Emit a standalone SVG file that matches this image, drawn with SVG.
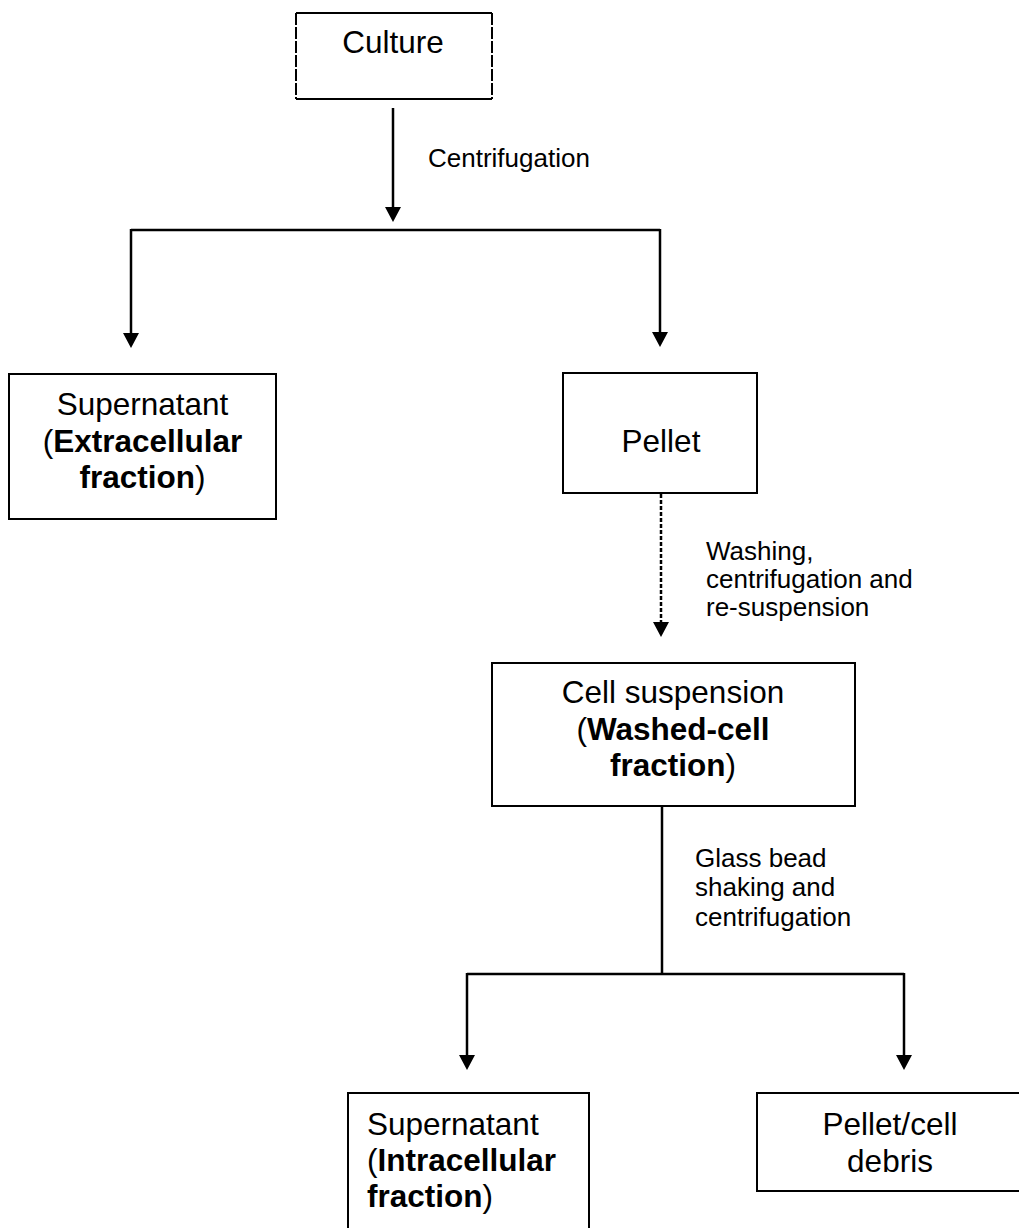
<svg xmlns="http://www.w3.org/2000/svg" width="1019" height="1228" viewBox="0 0 1019 1228">
  <style>
    .box { fill: #ffffff; stroke: #000000; stroke-width: 2; }
    .side { fill: none; stroke: #000000; stroke-width: 2; stroke-dasharray: 12 2; }
    .node { font-family: "Liberation Sans", Arial, sans-serif; font-size: 31.5px; fill: #000000; }
    .lbl { font-family: "Liberation Sans", Arial, sans-serif; font-size: 26px; fill: #000000; }
    .b { font-weight: bold; }
    .conn { fill: none; stroke: #000000; stroke-width: 2.5; }
    .dot { stroke-dasharray: 4 2; }
  </style>
  <defs>
    <marker id="arrow" viewBox="0 0 15 16" refX="3" refY="8" markerWidth="15" markerHeight="16" markerUnits="userSpaceOnUse" orient="auto">
      <path d="M0,0 L15,8 L0,16 z" fill="#000000"/>
    </marker>
  </defs>
  <rect width="1019" height="1228" fill="#ffffff"/>

  <g id="connectors">
    <line class="conn" x1="393" y1="108" x2="393" y2="210" marker-end="url(#arrow)"/>
    <line class="conn" x1="131" y1="230" x2="660" y2="230"/>
    <line class="conn" x1="131" y1="229" x2="131" y2="336" marker-end="url(#arrow)"/>
    <line class="conn" x1="660" y1="229" x2="660" y2="335" marker-end="url(#arrow)"/>
    <line class="conn dot" x1="661" y1="494" x2="661" y2="625" marker-end="url(#arrow)"/>
    <line class="conn" x1="662" y1="806" x2="662" y2="974"/>
    <line class="conn" x1="467" y1="974" x2="904" y2="974"/>
    <line class="conn" x1="467" y1="973" x2="467" y2="1058" marker-end="url(#arrow)"/>
    <line class="conn" x1="904" y1="973" x2="904" y2="1058" marker-end="url(#arrow)"/>
    <text class="lbl" x="428" y="167">Centrifugation</text>
    <text class="lbl" x="706" y="560">Washing,</text>
    <text class="lbl" x="706" y="588">centrifugation and</text>
    <text class="lbl" x="706" y="616">re-suspension</text>
    <text class="lbl" x="695" y="867">Glass bead</text>
    <text class="lbl" x="695" y="896">shaking and</text>
    <text class="lbl" x="695" y="926">centrifugation</text>
  </g>

  <g id="culture">
    <rect x="296" y="13" width="196" height="86" fill="#ffffff"/>
    <line class="box" x1="296" y1="13" x2="492" y2="13"/>
    <line class="box" x1="296" y1="99" x2="492" y2="99"/>
    <line class="side" x1="296" y1="13" x2="296" y2="99"/>
    <line class="side" x1="492" y1="13" x2="492" y2="99"/>
    <text class="node" x="393" y="53" text-anchor="middle">Culture</text>
  </g>

  <g id="supernatant-extracellular">
    <rect class="box" x="9" y="374" width="267" height="145"/>
    <text class="node" x="142.5" y="415" text-anchor="middle">Supernatant</text>
    <text class="node" x="142.5" y="452" text-anchor="middle">(<tspan class="b">Extracellular</tspan></text>
    <text class="node" x="142.5" y="488" text-anchor="middle"><tspan class="b">fraction</tspan>)</text>
  </g>

  <g id="pellet">
    <rect class="box" x="563" y="373" width="194" height="120"/>
    <text class="node" x="661" y="452" text-anchor="middle">Pellet</text>
  </g>

  <g id="cell-suspension">
    <rect class="box" x="492" y="663" width="363" height="143"/>
    <text class="node" x="673" y="703" text-anchor="middle">Cell suspension</text>
    <text class="node" x="673" y="740" text-anchor="middle">(<tspan class="b">Washed-cell</tspan></text>
    <text class="node" x="673" y="776" text-anchor="middle"><tspan class="b">fraction</tspan>)</text>
  </g>

  <g id="supernatant-intracellular">
    <rect class="box" x="348" y="1093" width="241" height="145"/>
    <text class="node" x="367" y="1135">Supernatant</text>
    <text class="node" x="367" y="1171">(<tspan class="b">Intracellular</tspan></text>
    <text class="node" x="367" y="1207"><tspan class="b">fraction</tspan>)</text>
  </g>

  <g id="pellet-debris">
    <rect class="box" x="757" y="1093" width="268" height="98"/>
    <text class="node" x="890" y="1135" text-anchor="middle">Pellet/cell</text>
    <text class="node" x="890" y="1172" text-anchor="middle">debris</text>
  </g>
</svg>
